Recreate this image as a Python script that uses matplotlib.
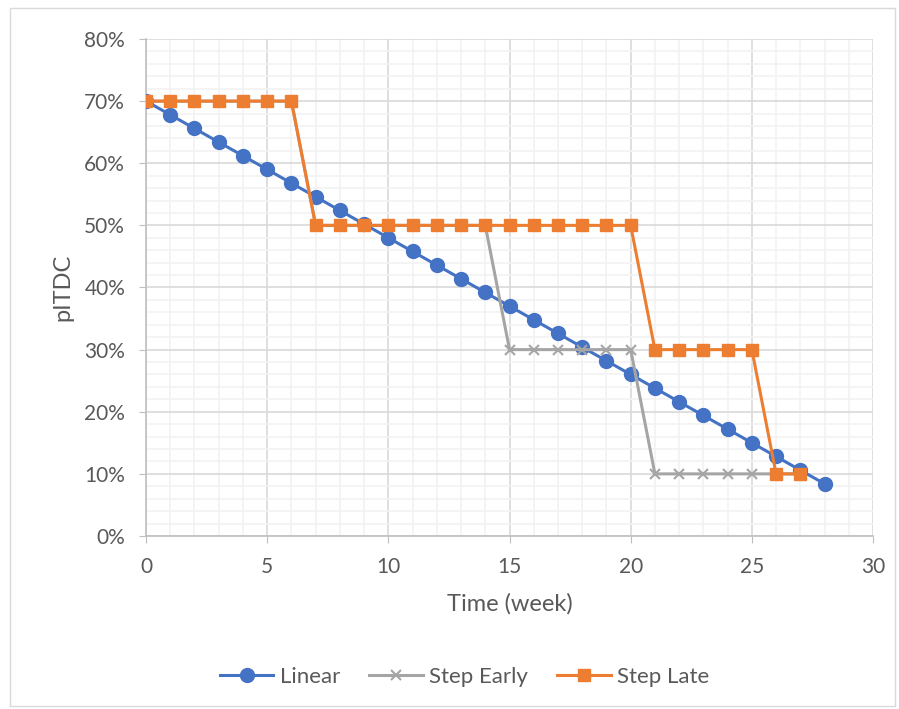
import matplotlib.pyplot as plt
from matplotlib.patches import Rectangle
from matplotlib.ticker import MultipleLocator, PercentFormatter

plt.rcParams['font.family'] = ['Lato', 'DejaVu Sans']

# data (fractions)
weeks = list(range(29))
linear = [0.700, 0.678, 0.656, 0.634, 0.612, 0.590, 0.568, 0.546, 0.524, 0.502,
          0.480, 0.458, 0.436, 0.414, 0.392, 0.370, 0.348, 0.326, 0.304, 0.282,
          0.260, 0.238, 0.216, 0.194, 0.172, 0.150, 0.128, 0.106, 0.084]
step_weeks = list(range(28))
step_early = [0.70] * 7 + [0.50] * 8 + [0.30] * 6 + [0.10] * 7
step_late = [0.70] * 7 + [0.50] * 14 + [0.30] * 5 + [0.10] * 2

text_col = '#595959'

fig = plt.figure(figsize=(8.99, 7.09), dpi=100)
fig.patches.append(Rectangle((0.011, 0.004), 0.985, 0.985, transform=fig.transFigure,
                             fill=False, edgecolor='#D9D9D9', linewidth=1))
ax = fig.add_axes([0.1624, 0.244, 0.8087, 0.701])

ax.plot(weeks, linear, color='#4472C4', lw=2.2, marker='o', ms=10, label='Linear', zorder=3)
ax.plot(step_weeks, step_early, color='#A5A5A5', lw=2.2, marker='x', ms=7, mew=1.5,
        label='Step Early', zorder=4)
ax.plot(step_weeks, step_late, color='#ED7D31', lw=2.2, marker='s', ms=8, label='Step Late', zorder=5)

ax.set_xlim(0, 30)
ax.set_ylim(0, 0.8)
ax.xaxis.set_major_locator(MultipleLocator(5))
ax.xaxis.set_minor_locator(MultipleLocator(1))
ax.yaxis.set_major_locator(MultipleLocator(0.1))
ax.yaxis.set_minor_locator(MultipleLocator(0.02))
ax.yaxis.set_major_formatter(PercentFormatter(1.0, decimals=0))

ax.grid(which='major', color='#D9D9D9', lw=1.2)
ax.grid(which='minor', color='#F2F2F2', lw=1.2)
ax.set_axisbelow(True)

for s in ['top', 'right']:
    ax.spines[s].set_visible(False)
for s in ['left', 'bottom']:
    ax.spines[s].set_color('#BFBFBF')
    ax.spines[s].set_linewidth(1.2)
ax.tick_params(which='major', length=5, color='#BFBFBF', labelcolor=text_col, labelsize=15, pad=10)
ax.tick_params(which='minor', length=0)

ax.set_xlabel('Time (week)', fontsize=17, color=text_col, labelpad=12)
ax.set_ylabel('pITDC', fontsize=17, color=text_col, labelpad=8)

fig.legend(loc='center', bbox_to_anchor=(0.517, 0.045), ncol=3, frameon=False,
           fontsize=16, labelcolor=text_col, handlelength=2.4, handletextpad=0.3,
           columnspacing=1.3)

fig.savefig('out.png', dpi=100)
